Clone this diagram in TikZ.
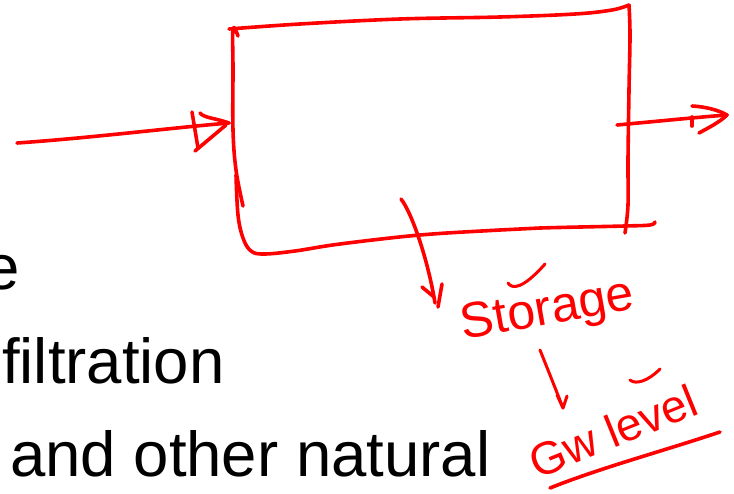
\documentclass[tikz,border=0pt]{standalone}
\usepackage{fontspec}
\setmainfont{Liberation Sans}
\begin{document}
\begin{tikzpicture}[x=1pt,y=-1pt,
  pen/.style={draw=red, line width=3.6pt, line cap=round, line join=round},
  body/.style={font=\fontsize{63.5}{70}\selectfont, text=black, inner sep=0pt, anchor=base west},
  hand/.style={font=\fontsize{50}{54}\selectfont, text=red, inner sep=0pt}]
\useasboundingbox (0,0) rectangle (734,493);
\clip (0,0) rectangle (734,493);
\fill[white] (0,0) rectangle (734,493);
% black body text
\node[body] (t1) at (-16,289) {e};
\node[body] (t2) at (2,383) {filtration};
\node[body] (t3) at (10,476) {and other natural};
% named points
\coordinate (inStart) at (17,143);
\coordinate (inTip) at (229,123);
\coordinate (outStart) at (617,125);
\coordinate (outTip) at (727,115);
\coordinate (dnStart) at (401,199);
\coordinate (dnTip) at (435,303);
% box
\draw[pen] plot[smooth, tension=0.6] coordinates {(229,29) (300,24) (400,19) (500,17) (575,14) (612,10) (629,5)};
\draw[pen] plot[smooth, tension=0.6] coordinates {(238,36) (233,29) (233,70) (233,130) (236,170) (243,206)};
\draw[pen] plot[smooth, tension=0.6] coordinates {(236,175) (238,215) (243,238) (251,251) (264,254) (295,251) (340,244) (420,235) (500,230) (540,228) (625,226) (650,225) (655,222)};
\draw[pen] plot[smooth, tension=0.6] coordinates {(629,5) (630,35) (629,90) (628,160) (628,205) (625,233)};
% input arrow
\draw[pen] (inStart) .. controls (90,138) and (170,128) .. (inTip);
\draw[pen] (192,112) -- (198,148);
\draw[pen] (195,151) -- (226,125);
\draw[pen] (200,113) .. controls (204,118) and (215,118) .. (inTip);
% output arrow
\draw[pen] (outStart) .. controls (660,121) and (700,117) .. (outTip);
\draw[pen] (692,106) .. controls (710,107) and (722,112) .. (outTip) .. controls (720,122) and (708,128) .. (699,133);
\draw[pen] (692,117) -- (692,126);
% downward arrow
\draw[pen] (dnStart) .. controls (412,213) and (428,260) .. (dnTip);
\draw[pen] (422,287) -- (434,297);
\draw[pen] (442,284) -- (438,307);
% labels
\node[hand, rotate=10] (st) at (548,312) {Storage};
\draw[pen, line width=3pt] (508,283) .. controls (512,289) and (522,290) .. (545,264);
\coordinate (stA) at (540,350);
\coordinate (stB) at (563,408);
\draw[pen, line width=3pt] (stA) .. controls (548,370) and (556,390) .. (stB);
\draw[pen, line width=3pt] (557,395) -- (stB) -- (567,396);
\node[hand, rotate=22, font=\fontsize{46}{50}\selectfont] (gw) at (613,431) {Gw level};
\draw[pen, line width=3pt] (630,380) .. controls (636,385) and (648,381) .. (660,369);
\draw[pen] (720,432) .. controls (660,452) and (600,468) .. (550,488);
\end{tikzpicture}
\end{document}
